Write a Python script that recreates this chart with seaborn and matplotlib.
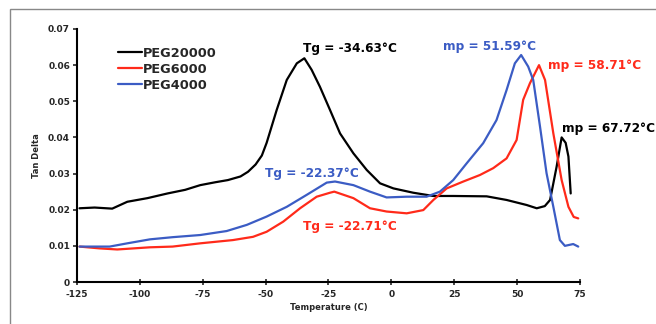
import numpy as np
import pandas as pd
import matplotlib
matplotlib.use("Agg")
import matplotlib.pyplot as plt
import seaborn as sns
from matplotlib.patches import Rectangle
from matplotlib.lines import Line2D

# ---- data ----
series_names = ["PEG20000", "PEG6000", "PEG4000"]

t_peg20000 = [-124, -118, -111, -105, -97, -89, -82, -76, -70, -65, -60, -57, -54, -51.5, -49.6, -45.6,
              -41.6, -37.6, -34.6, -31.7, -28.4, -24.4, -20.4, -15.1, -9.8, -4.5, 0.8, 8.7, 16.7,
              24.6, 37.9, 45.8, 53.8, 57.8, 61, 63.1, 65.7, 67.7, 69.3, 70.4, 71.3]
y_peg20000 = [0.0204, 0.0206, 0.0203, 0.0222, 0.0232, 0.0245, 0.0255, 0.0268, 0.0276, 0.0282,
              0.0292, 0.0305, 0.0325, 0.0350, 0.0385, 0.0476, 0.0559, 0.0605, 0.0619, 0.0587, 0.054,
              0.0476, 0.0411, 0.0356, 0.031, 0.0273, 0.0259, 0.0247, 0.0238, 0.0238, 0.0237,
              0.0227, 0.0213, 0.0204, 0.021, 0.0227, 0.0319, 0.0400, 0.0385, 0.0347, 0.0245]

t_peg6000 = [-124, -116, -109, -96, -87, -76, -63, -55, -49.6, -43, -36.3, -29.7, -24.4, -22.7,
             -15.1, -8.5, -1.9, 6.1, 12.7, 16.7, 22, 28.6, 35.2, 40.5, 45.8, 49.8, 52.4, 55.1,
             58.7, 61.1, 64.4, 67.7, 70.4, 72.5, 74.3]
y_peg6000 = [0.0098, 0.0093, 0.009, 0.0096, 0.0098, 0.0107, 0.0116, 0.0125, 0.0139, 0.0167,
             0.0204, 0.0236, 0.0247, 0.025, 0.0232, 0.0204, 0.0195, 0.019, 0.0199, 0.0227,
             0.0259, 0.0278, 0.0296, 0.0315, 0.0342, 0.0393, 0.0504, 0.055, 0.0600, 0.0559,
             0.0411, 0.0282, 0.0208, 0.018, 0.0176]

t_peg4000 = [-124, -112, -105, -96, -87, -76, -65.5, -57.5, -49.6, -41.6, -33.7, -25.7, -22.4,
             -15.1, -8.5, -1.9, 6.1, 14, 19.3, 24.6, 29.9, 36.5, 41.8, 45.8, 49.1, 51.6, 54.4,
             56.4, 59.1, 61.7, 64.4, 67, 69, 72.3, 74.3]
y_peg4000 = [0.0098, 0.0098, 0.0107, 0.0118, 0.0124, 0.013, 0.0141, 0.0158, 0.0181, 0.0208,
             0.0241, 0.0275, 0.0278, 0.0268, 0.025, 0.0234, 0.0236, 0.0236, 0.025, 0.0282,
             0.0328, 0.0384, 0.0448, 0.0531, 0.0605, 0.0628, 0.0596, 0.0559, 0.043, 0.0301,
             0.0208, 0.0116, 0.0100, 0.0105, 0.0098]

x_ticks = [-125, -100, -75, -50, -25, 0, 25, 50, 75]
y_ticks = [0, 0.01, 0.02, 0.03, 0.04, 0.05, 0.06, 0.07]
y_tick_labels = ["0", "0.01", "0.02", "0.03", "0.04", "0.05", "0.06", "0.07"]

annotations = [
    ("Tg = -34.63°C", -35.0, 0.0647, "black"),
    ("mp = 51.59°C", 20.7, 0.0651, "#3b5cc4"),
    ("mp = 58.71°C", 62.4, 0.0600, "#ff2a1a"),
    ("mp = 67.72°C", 67.7, 0.0425, "black"),
    ("Tg = -22.37°C", -50.2, 0.0301, "#3b5cc4"),
    ("Tg = -22.71°C", -35.0, 0.0153, "#ff2a1a"),
]

colors = {"PEG20000": "black", "PEG6000": "#ff2a1a", "PEG4000": "#3b5cc4"}

df = pd.concat([
    pd.DataFrame({"T": t_peg20000, "y": y_peg20000, "s": "PEG20000"}),
    pd.DataFrame({"T": t_peg6000, "y": y_peg6000, "s": "PEG6000"}),
    pd.DataFrame({"T": t_peg4000, "y": y_peg4000, "s": "PEG4000"}),
], ignore_index=True)

sns.set_style("ticks")
plt.rcParams['font.family'] = ['DejaVu Sans']

fig = plt.figure(figsize=(6.56, 3.24), dpi=100)
fig.patch.set_facecolor("white")
ax = fig.add_axes([77/656, 1-282/324, 503/656, 253/324])

sns.lineplot(data=df, x="T", y="y", hue="s", palette=colors, hue_order=series_names,
             estimator=None, sort=False, linewidth=1.6, ax=ax, legend=False)

ax.set_xlim(-125, 75)
ax.set_ylim(0, 0.07)
ax.set_xticks(x_ticks)
ax.set_xticklabels([str(v) for v in x_ticks], fontsize=6.5, fontweight="bold")
ax.set_yticks(y_ticks)
ax.set_yticklabels(y_tick_labels, fontsize=6.5, fontweight="bold")
ax.tick_params(axis="x", direction="inout", length=4, width=1.2, pad=4)
ax.tick_params(axis="y", direction="out", length=3, width=1.2, pad=2)
for sp in ["top", "right"]:
    ax.spines[sp].set_visible(False)
for sp in ["left", "bottom"]:
    ax.spines[sp].set_linewidth(1.5)
    ax.spines[sp].set_color("black")

ax.set_xlabel("Temperature (C)", fontsize=6, fontweight="bold", labelpad=3)
ax.set_ylabel("Tan Delta", fontsize=6, fontweight="bold", labelpad=5)

for txt, x, y, c in annotations:
    ax.text(x, y, txt, color=c, fontsize=8.7, fontweight="bold", va="center", ha="left")

handles = [Line2D([0], [0], color=colors[n], lw=1.6) for n in series_names]
leg = ax.legend(handles, series_names, loc="upper left", bbox_to_anchor=(0.058, 0.975),
                frameon=False, handlelength=1.9, handletextpad=0.05, labelspacing=0.22,
                prop={"weight": "bold", "size": 9.3})

fig.patches.append(Rectangle((10/656, -0.5), 2.0, 1.5 - 9/324, transform=fig.transFigure,
                             fill=False, edgecolor="#888888", linewidth=1.0, figure=fig))

fig.savefig("out.png", dpi=100, facecolor="white")
